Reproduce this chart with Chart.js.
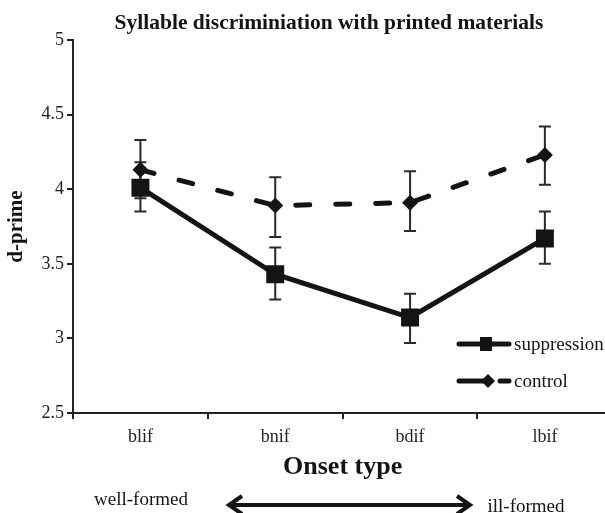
<!DOCTYPE html>
<html>
<head>
<meta charset="utf-8">
<script src="https://cdn.jsdelivr.net/npm/chart.js@4/dist/chart.umd.min.js"></script>
<style>
  html, body { margin: 0; padding: 0; overflow: hidden; background: #fff; width: 605px; height: 513px; }
  canvas { display: block; }
</style>
</head>
<body>
<canvas id="c" width="625" height="513"></canvas>
<script>
// ---- data ----
const categories = ['blif', 'bnif', 'bdif', 'lbif'];
const suppression = [4.01, 3.43, 3.14, 3.67];
const suppressionLow = [3.85, 3.26, 2.97, 3.50];
const suppressionHigh = [4.18, 3.61, 3.30, 3.85];
const control = [4.13, 3.89, 3.91, 4.23];
const controlLow = [3.94, 3.68, 3.72, 4.03];
const controlHigh = [4.33, 4.08, 4.12, 4.42];
const seriesNames = ['suppression', 'control'];
const titleText = 'Syllable discriminiation with printed materials';
const xTitle = 'Onset type';
const yTitle = 'd-prime';
const leftNote = 'well-formed';
const rightNote = 'ill-formed';

const SERIF = '"Liberation Serif", "DejaVu Serif", serif';
const INK = '#141414';

const errorBars = {
  id: 'errorBars',
  beforeDatasetsDraw(chart) {
    const ctx = chart.ctx;
    const x = chart.scales.x, y = chart.scales.y;
    const sets = [[suppressionLow, suppressionHigh], [controlLow, controlHigh]];
    ctx.save();
    ctx.strokeStyle = '#2a2a2a';
    ctx.lineWidth = 2;
    sets.forEach(([lo, hi]) => {
      categories.forEach((c, i) => {
        const px = x.getPixelForValue(i);
        const y1 = y.getPixelForValue(lo[i]);
        const y2 = y.getPixelForValue(hi[i]);
        ctx.beginPath();
        ctx.moveTo(px, y1); ctx.lineTo(px, y2);
        ctx.moveTo(px - 6, y1); ctx.lineTo(px + 6, y1);
        ctx.moveTo(px - 6, y2); ctx.lineTo(px + 6, y2);
        ctx.stroke();
      });
    });
    ctx.restore();
  }
};

const annotations = {
  id: 'annotations',
  afterDraw(chart) {
    const ctx = chart.ctx;
    ctx.save();
    // title
    ctx.fillStyle = INK;
    ctx.font = 'bold 21.5px ' + SERIF;
    ctx.textAlign = 'center';
    ctx.textBaseline = 'middle';
    ctx.fillText(titleText, 329, 23);

    // legend
    ctx.strokeStyle = INK;
    ctx.fillStyle = INK;
    ctx.lineWidth = 5;
    ctx.lineCap = 'round';
    ctx.beginPath(); ctx.moveTo(459, 344); ctx.lineTo(509, 344); ctx.stroke();
    ctx.fillRect(480, 337, 12, 14);
    ctx.beginPath(); ctx.moveTo(459, 381); ctx.lineTo(485, 381); ctx.stroke();
    ctx.beginPath(); ctx.moveTo(500, 381); ctx.lineTo(509, 381); ctx.stroke();
    ctx.beginPath();
    ctx.moveTo(488, 374); ctx.lineTo(495, 381); ctx.lineTo(488, 388); ctx.lineTo(481, 381);
    ctx.closePath(); ctx.fill();
    ctx.font = '19px ' + SERIF;
    ctx.textAlign = 'left';
    ctx.fillText(seriesNames[0], 514, 345);
    ctx.fillText(seriesNames[1], 514, 382);

    // bottom notes
    ctx.textAlign = 'center';
    ctx.fillText(leftNote, 141, 500);
    ctx.fillText(rightNote, 526, 507);
    // double arrow
    ctx.lineWidth = 4;
    ctx.lineCap = 'butt';
    ctx.lineJoin = 'miter';
    ctx.beginPath(); ctx.moveTo(230, 505); ctx.lineTo(469, 505); ctx.stroke();
    ctx.beginPath(); ctx.moveTo(242, 496); ctx.lineTo(229, 505); ctx.lineTo(242, 514); ctx.stroke();
    ctx.beginPath(); ctx.moveTo(457, 496); ctx.lineTo(470, 505); ctx.lineTo(457, 514); ctx.stroke();
    ctx.restore();
  }
};

new Chart(document.getElementById('c'), {
  type: 'line',
  data: {
    labels: categories,
    datasets: [
      {
        label: seriesNames[0],
        data: suppression,
        borderColor: INK,
        backgroundColor: INK,
        borderWidth: 5,
        tension: 0,
        pointStyle: 'rect',
        pointRadius: 12.7,
        pointBackgroundColor: INK,
        pointBorderWidth: 0,
        fill: false
      },
      {
        label: seriesNames[1],
        data: control,
        borderColor: INK,
        backgroundColor: INK,
        borderWidth: 5,
        borderDash: [14, 26],
        borderCapStyle: 'round',
        tension: 0,
        pointStyle: 'rectRot',
        pointRadius: 8,
        pointBackgroundColor: INK,
        pointBorderWidth: 0,
        fill: false
      }
    ]
  },
  options: {
    responsive: false,
    animation: false,
    devicePixelRatio: 1,
    layout: { padding: { top: 40, left: 0, right: 1, bottom: 0 } },
    plugins: {
      legend: { display: false },
      tooltip: { enabled: false },
      title: { display: false }
    },
    scales: {
      x: {
        type: 'category',
        offset: true,
        grid: { display: true, drawOnChartArea: false, drawTicks: true, tickLength: 6, color: '#222', lineWidth: 2, offset: true },
        border: { display: true, color: '#222', width: 2 },
        ticks: { color: '#222', font: { family: SERIF, size: 18 }, padding: 7 },
        title: { display: true, text: xTitle, color: INK, font: { family: SERIF, size: 26, weight: 'bold' }, padding: { top: 0, bottom: 30 } },
        afterFit(scale) { scale.height = 100; }
      },
      y: {
        min: 2.5,
        max: 5,
        ticks: { stepSize: 0.5, color: '#222', font: { family: SERIF, size: 18 }, padding: 3, callback: (v) => String(v) },
        grid: { display: true, drawOnChartArea: false, drawTicks: true, tickLength: 6, color: '#222', lineWidth: 2 },
        border: { display: true, color: '#222', width: 2 },
        title: { display: true, text: yTitle, color: INK, font: { family: SERIF, size: 21, weight: 'bold' }, padding: { top: 4, bottom: 0 } },
        afterFit(scale) { scale.width = 73; }
      }
    }
  },
  plugins: [errorBars, annotations]
});
</script>
</body>
</html>
